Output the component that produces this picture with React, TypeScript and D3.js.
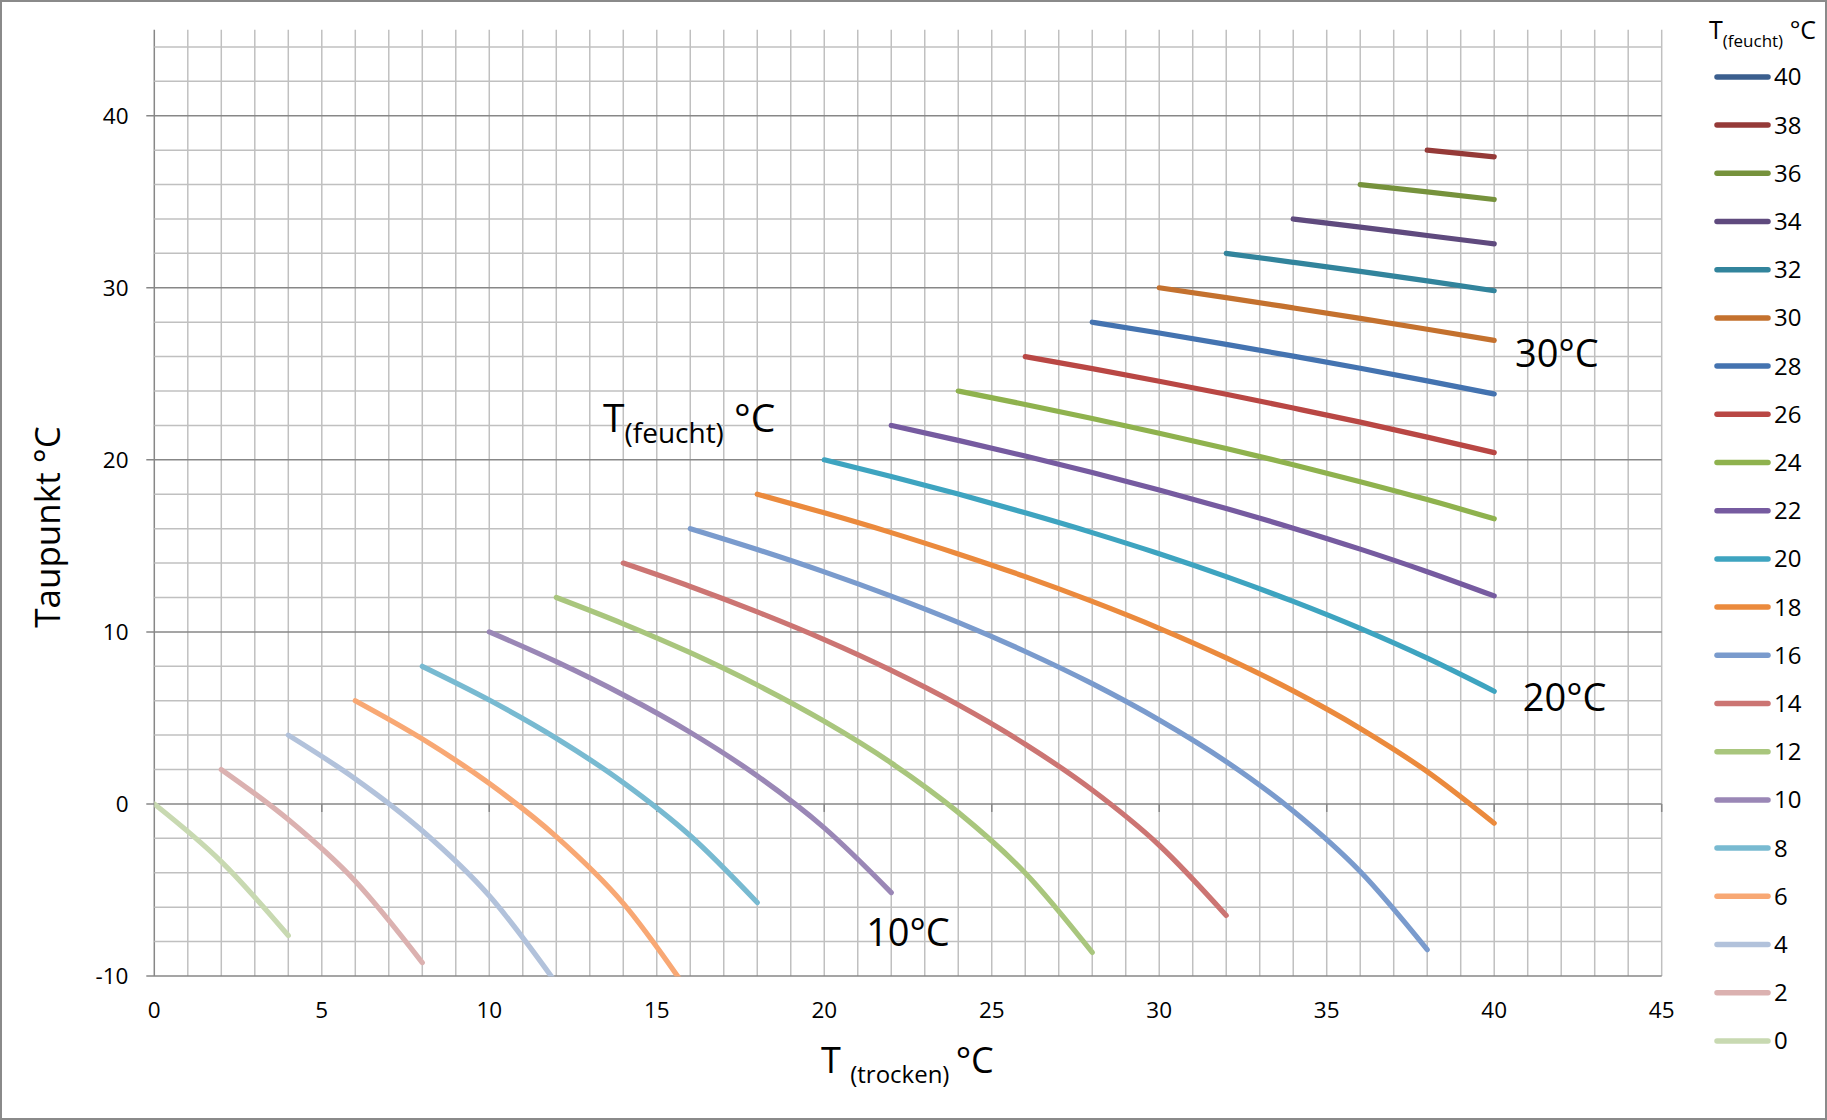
import React from 'react';
import * as d3 from 'd3';

// Dew point curves: [dry-bulb T (°C), dew point (°C)] for each wet-bulb temperature
const tw40: [number, number][] = [[40, 40]];
const tw38: [number, number][] = [[38, 38], [40, 37.61]];
const tw36: [number, number][] = [[36, 36], [38, 35.57], [40, 35.13]];
const tw34: [number, number][] = [[34, 34], [36, 33.53], [38, 33.04], [40, 32.55]];
const tw32: [number, number][] = [[32, 32], [34, 31.48], [36, 30.95], [38, 30.4], [40, 29.83]];
const tw30: [number, number][] = [[30, 30], [32, 29.43], [34, 28.83], [36, 28.22], [38, 27.59], [40, 26.94]];
const tw28: [number, number][] = [[28, 28], [30, 27.37], [32, 26.71], [34, 26.03], [36, 25.32], [38, 24.59], [40, 23.83]];
const tw26: [number, number][] = [[26, 26], [28, 25.3], [30, 24.57], [32, 23.81], [34, 23.01], [36, 22.19], [38, 21.32], [40, 20.42]];
const tw24: [number, number][] = [[24, 24], [26, 23.22], [28, 22.4], [30, 21.55], [32, 20.66], [34, 19.72], [36, 18.73], [38, 17.69], [40, 16.57]];
const tw22: [number, number][] = [[22, 22], [24, 21.13], [26, 20.22], [28, 19.26], [30, 18.25], [32, 17.17], [34, 16.03], [36, 14.81], [38, 13.5], [40, 12.09]];
const tw20: [number, number][] = [[20, 20], [22, 19.03], [24, 18.01], [26, 16.92], [28, 15.77], [30, 14.54], [32, 13.21], [34, 11.77], [36, 10.2], [38, 8.47], [40, 6.55]];
const tw18: [number, number][] = [[18, 18], [20, 16.92], [22, 15.77], [24, 14.53], [26, 13.21], [28, 11.77], [30, 10.21], [32, 8.49], [34, 6.57], [36, 4.39], [38, 1.88], [40, -1.12]];
const tw16: [number, number][] = [[16, 16], [18, 14.79], [20, 13.49], [22, 12.08], [24, 10.55], [26, 8.86], [28, 6.99], [30, 4.88], [32, 2.46], [34, -0.41], [36, -3.93], [38, -8.47]];
const tw14: [number, number][] = [[14, 14], [16, 12.64], [18, 11.16], [20, 9.55], [22, 7.76], [24, 5.76], [26, 3.47], [28, 0.81], [30, -2.4], [32, -6.48]];
const tw12: [number, number][] = [[12, 12], [14, 10.47], [16, 8.79], [18, 6.91], [20, 4.8], [22, 2.38], [24, -0.49], [26, -4.01], [28, -8.63]];
const tw10: [number, number][] = [[10, 10], [12, 8.27], [14, 6.34], [16, 4.16], [18, 1.63], [20, -1.39], [22, -5.15]];
const tw08: [number, number][] = [[8, 8], [10, 6.04], [12, 3.82], [14, 1.24], [16, -1.85], [18, -5.73]];
const tw06: [number, number][] = [[6, 6], [8, 3.78], [10, 1.19], [12, -1.9], [14, -5.78], [16, -11.07]];
const tw04: [number, number][] = [[4, 4], [6, 1.46], [8, -1.56], [10, -5.34], [12, -10.42]];
const tw02: [number, number][] = [[2, 2], [4, -0.91], [6, -4.49], [8, -9.22]];
const tw00: [number, number][] = [[0, 0], [2, -3.35], [4, -7.65]];

const wetBulbLabels = ['40', '38', '36', '34', '32', '30', '28', '26', '24', '22', '20', '18', '16', '14', '12', '10', '8', '6', '4', '2', '0'];
const wetBulbSeries = [tw40, tw38, tw36, tw34, tw32, tw30, tw28, tw26, tw24, tw22, tw20, tw18, tw16, tw14, tw12, tw10, tw08, tw06, tw04, tw02, tw00];

const palette = [
  '#3b5f8e', '#953a38', '#76923c', '#5f4a7e', '#32849c', '#c4712e',
  '#4473b0', '#b94744', '#8fb24e', '#765ba0', '#3ea4c0', '#eb8a3d',
  '#7a9bcd', '#cc7573', '#a9c67d', '#9a87b6', '#78bad1', '#f8a874',
  '#b2c2db', '#dbb1b0', '#c8d9b1',
];

const xTicks = [0, 5, 10, 15, 20, 25, 30, 35, 40, 45];
const yTicks = [-10, 0, 10, 20, 30, 40];
const curveLabels = [
  { text: '10°C', t: 21.25, d: -8.25 },
  { text: '20°C', t: 40.85, d: 5.4 },
  { text: '30°C', t: 40.62, d: 25.4 },
];

const W = 1827;
const H = 1120;
const FONT = "'Open Sans', 'Noto Sans', sans-serif";

export default function App() {
  const x = d3.scaleLinear().domain([0, 45]).range([154.3, 1661.7]);
  const y = d3.scaleLinear().domain([-10, 45]).range([976, 29.7]);
  const line = d3
    .line<[number, number]>()
    .x((d) => x(d[0]))
    .y((d) => y(d[1]))
    .curve(d3.curveMonotoneX);

  const vMinor = d3.range(0, 46, 1);
  const hMinor = d3.range(-10, 45, 2).filter((v) => v % 10 !== 0);
  const hMajor = d3.range(-10, 45, 10);

  const gridLight = '#c0c0c0';
  const gridDark = '#878787';

  const legendX0 = 1717;
  const legendX1 = 1768;
  const legendY0 = 76.9;
  const legendStep = 48.2;

  return (
    <svg
      width={W}
      height={H}
      style={{ position: 'absolute', left: 0, top: 0, background: '#fff' }}
      fontFamily={FONT}
    >
      <defs>
        <clipPath id="plotClip">
          <rect x={x(0)} y={y(45)} width={x(45) - x(0)} height={y(-10) - y(45) + 0.5} />
        </clipPath>
      </defs>
      <rect x={1} y={1} width={W - 2} height={H - 2} fill="#fff" stroke="#8a8a8a" strokeWidth={2} />

      {/* vertical gridlines */}
      {vMinor.map((v) => (
        <line key={'v' + v} x1={x(v)} x2={x(v)} y1={y(45)} y2={y(-10)}
          stroke={v === 0 ? gridDark : gridLight} strokeWidth={1.5} />
      ))}
      {/* horizontal minor gridlines */}
      {hMinor.map((v) => (
        <line key={'hm' + v} x1={x(0)} x2={x(45)} y1={y(v)} y2={y(v)} stroke={gridLight} strokeWidth={1.5} />
      ))}
      {/* horizontal major gridlines with tick */}
      {hMajor.map((v) => (
        <line key={'hM' + v} x1={x(0) - 8} x2={x(45)} y1={y(v)} y2={y(v)} stroke={gridDark} strokeWidth={1.5} />
      ))}
      {/* x-axis ticks at y=0 */}
      {xTicks.filter((t) => t > 0).map((t) => (
        <line key={'xt' + t} x1={x(t)} x2={x(t)} y1={y(0)} y2={y(0) + 8} stroke={gridDark} strokeWidth={1.5} />
      ))}

      {/* tick labels */}
      {yTicks.map((t) => (
        <text key={'yl' + t} x={128.5} y={y(t) + 8} textAnchor="end" fontSize={22.5} fill="#000">{t}</text>
      ))}
      {xTicks.map((t) => (
        <text key={'xl' + t} x={x(t)} y={1018} textAnchor="middle" fontSize={22.5} fill="#000">{t}</text>
      ))}

      {/* series */}
      <g clipPath="url(#plotClip)">
        {wetBulbSeries.map((pts, i) =>
          pts.length > 1 ? (
            <path key={'s' + i} d={line(pts) || ''} fill="none" stroke={palette[i]}
              strokeWidth={5.2} strokeLinecap="round" strokeLinejoin="round" />
          ) : null
        )}
      </g>

      {/* annotations in plot */}
      <text x={603} y={432} fontSize={39} fill="#000">
        <tspan>T</tspan>
        <tspan fontSize={28} dy={11}>(feucht)</tspan>
        <tspan fontSize={39} dy={-11}> °C</tspan>
      </text>
      {curveLabels.map((c) => (
        <text key={c.text} x={x(c.t)} y={y(c.d)} fontSize={38} fill="#000">{c.text}</text>
      ))}

      {/* axis titles */}
      <text x={821} y={1073} fontSize={36} fill="#000">
        <tspan>T </tspan>
        <tspan fontSize={24} dy={10}>(trocken) </tspan>
        <tspan fontSize={36} dy={-10}>°C</tspan>
      </text>
      <text transform={`translate(60,527) rotate(-90)`} textAnchor="middle" fontSize={35} fill="#000">Taupunkt °C</text>

      {/* legend */}
      <text x={1709} y={39} fontSize={25} fill="#000">
        <tspan>T</tspan>
        <tspan fontSize={17} dy={8}>(feucht)</tspan>
        <tspan fontSize={25} dy={-8}> °C</tspan>
      </text>
      {wetBulbLabels.map((lab, i) => {
        const ly = legendY0 + i * legendStep;
        return (
          <g key={'lg' + lab}>
            <line x1={legendX0} x2={legendX1} y1={ly} y2={ly} stroke={palette[i]} strokeWidth={5.5} strokeLinecap="round" />
            <text x={1774} y={ly + 8.5} fontSize={24} fill="#000">{lab}</text>
          </g>
        );
      })}
    </svg>
  );
}
